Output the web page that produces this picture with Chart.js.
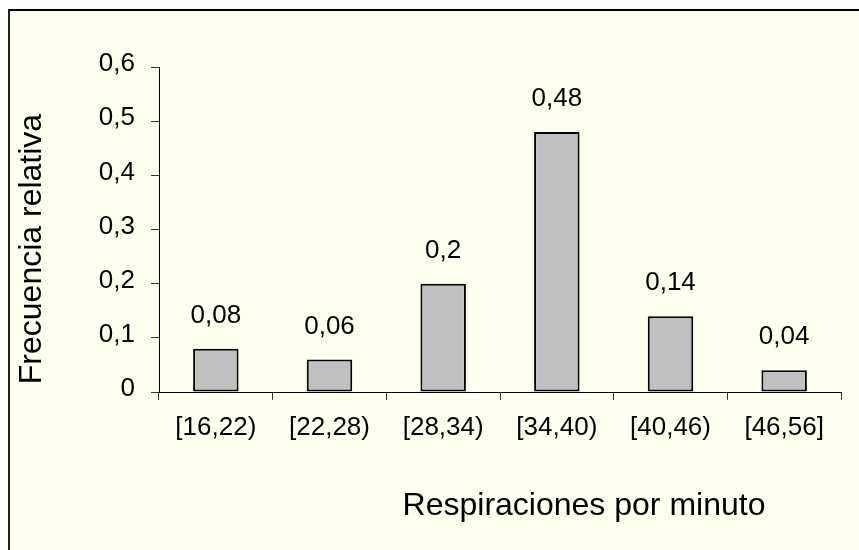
<!DOCTYPE html>
<html>
<head>
<meta charset="utf-8">
<script src="https://cdn.jsdelivr.net/npm/chart.js@4.4.0/dist/chart.umd.min.js"></script>
<style>
  html, body { margin: 0; padding: 0; background: #ffffff; overflow: hidden; }
  #frame {
    position: absolute; left: 8px; top: 9px; width: 900px; height: 600px;
    background: #ffffee; border-left: 2px solid #222; border-top: 2px solid #000;
  }
  #wrap { position: absolute; left: 0; top: 0; width: 859px; height: 550px; }
</style>
</head>
<body>
<div id="frame"></div>
<div id="wrap"><canvas id="chart" width="859" height="550"></canvas></div>
<script>
const categorias = ["[16,22)", "[22,28)", "[28,34)", "[34,40)", "[40,46)", "[46,56]"];
const frecuencias = [0.08, 0.06, 0.2, 0.48, 0.14, 0.04];
const yTicks = [0, 0.1, 0.2, 0.3, 0.4, 0.5, 0.6];

const fuente = "'Liberation Sans', Arial, sans-serif";
const coma = v => String(v).replace('.', ',');

// etiquetas de valor y titulos de ejes
const extras = {
    id: 'extras',
    afterDatasetsDraw(chart) {
        const ctx = chart.ctx;
        const meta = chart.getDatasetMeta(0);
        ctx.save();
        ctx.fillStyle = '#000';
        ctx.font = '26px ' + fuente;
        ctx.textAlign = 'center';
        ctx.textBaseline = 'alphabetic';
        meta.data.forEach((bar, i) => {
            ctx.fillText(coma(frecuencias[i]), bar.x, bar.y - 26);
        });
        ctx.restore();
    },
    afterDraw(chart) {
        const ctx = chart.ctx;
        ctx.save();
        ctx.fillStyle = '#000';
        ctx.font = '32px ' + fuente;
        ctx.textAlign = 'center';
        ctx.textBaseline = 'middle';
        ctx.fillText('Respiraciones por minuto', 584, 506);
        ctx.translate(32, 249);
        ctx.rotate(-Math.PI / 2);
        ctx.fillText('Frecuencia relativa', 0, 0);
        ctx.restore();
    }
};

new Chart(document.getElementById('chart').getContext('2d'), {
    type: 'bar',
    data: {
        labels: categorias,
        datasets: [{
            data: frecuencias,
            backgroundColor: '#c0c0c0',
            borderColor: '#000',
            borderWidth: 2,
            borderSkipped: false,
            categoryPercentage: 1,
            barPercentage: 0.4
        }]
    },
    options: {
        responsive: false,
        animation: false,
        layout: { padding: { top: 67, right: 18, left: 0, bottom: 0 } },
        plugins: { legend: { display: false }, tooltip: { enabled: false } },
        scales: {
            x: {
                afterFit: s => { s.height = 158; },
                grid: { drawOnChartArea: false, drawTicks: true, tickLength: 8, color: '#333', offset: true },
                border: { display: true, color: '#000', width: 1 },
                ticks: { color: '#000', font: { family: fuente, size: 26 }, padding: 12, maxRotation: 0 }
            },
            y: {
                min: 0,
                max: 0.6,
                afterFit: s => { s.width = 159; },
                afterBuildTicks: s => { s.ticks = yTicks.map(v => ({ value: v })); },
                grid: { drawOnChartArea: false, drawTicks: true, tickLength: 8, color: '#333' },
                border: { display: true, color: '#000', width: 1 },
                ticks: {
                    color: '#000',
                    font: { family: fuente, size: 26 },
                    padding: 16,
                    labelOffset: -3,
                    callback: v => v === 0 ? '0' : v.toFixed(1).replace('.', ',')
                }
            }
        }
    },
    plugins: [extras]
});
</script>
</body>
</html>
